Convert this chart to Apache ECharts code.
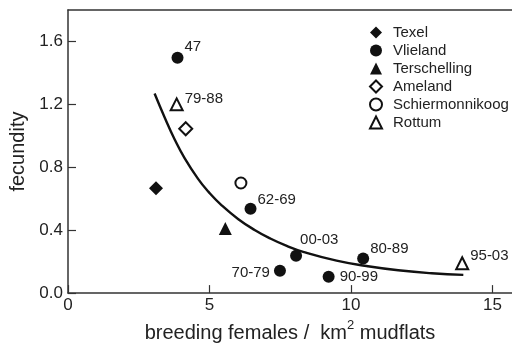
<!DOCTYPE html>
<html>
<head>
<meta charset="utf-8">
<script src="https://cdn.jsdelivr.net/npm/echarts@6/dist/echarts.min.js"></script>
<style>
html,body{margin:0;padding:0;background:#fff;}
#c{width:512px;height:348px;}
</style>
</head>
<body>
<div id="c"></div>
<script>
// ---- data ----
var texel = [[3.11, 0.666, '']];
var vlieland = [
  [3.87, 1.497, '47'],
  [6.45, 0.537, '62-69'],
  [7.49, 0.142, '70-79'],
  [8.06, 0.237, '00-03'],
  [9.21, 0.104, '90-99'],
  [10.43, 0.220, '80-89']
];
var terschelling = [[5.56, 0.41, '']];
var ameland = [[4.16, 1.045, '']];
var schiermonnikoog = [[6.11, 0.70, '']];
var rottum = [[3.84, 1.20, '79-88'], [13.93, 0.19, '95-03']];
var curveX = [3.06, 3.42, 3.77, 4.12, 4.59, 4.96, 5.43, 6.02, 6.61, 7.14, 7.73, 8.31, 9.49, 10.55, 11.67, 12.85, 13.97];
var curveY = [1.269, 1.115, 0.977, 0.858, 0.728, 0.645, 0.558, 0.470, 0.400, 0.348, 0.300, 0.262, 0.206, 0.172, 0.145, 0.126, 0.116];
var xTicks = [0, 5, 10, 15];
var yTicks = [0, 0.4, 0.8, 1.2, 1.6];

// label placement (style only)
var labelStyle = {
  '47': {position: 'right', distance: 1, offset: [0, -11]},
  '62-69': {position: 'right', distance: 1, offset: [0, -9]},
  '70-79': {position: 'left', distance: 4, offset: [0, 2]},
  '00-03': {position: 'right', distance: 0, offset: [-2, -16]},
  '90-99': {position: 'right', distance: 5, offset: [0, 0]},
  '80-89': {position: 'right', distance: 1, offset: [0, -10]},
  '79-88': {position: 'right', distance: 1, offset: [0, -6]},
  '95-03': {position: 'right', distance: 1, offset: [0, -7]}
};

var FONT = '"Liberation Sans", Arial, Helvetica, sans-serif';
var TXT = '#222';

function pts(arr) {
  return arr.map(function (d) {
    var item = {value: [d[0], d[1]], name: d[2]};
    if (d[2]) {
      var ls = labelStyle[d[2]];
      item.label = {
        show: true, formatter: d[2], position: ls.position, distance: ls.distance,
        offset: ls.offset, fontSize: 15, fontFamily: FONT, color: TXT
      };
    }
    return item;
  });
}

var curve = curveX.map(function (x, i) { return [x, curveY[i]]; });

function sc(name, data, symbol, size, empty) {
  return {
    name: name, type: 'scatter', data: pts(data), symbol: symbol, symbolSize: size,
    itemStyle: empty ? {color: '#111', borderColor: '#111', borderWidth: 1.4, opacity: 1} : {color: '#111', opacity: 1},
    emphasis: {disabled: true}, z: 3
  };
}

var chart = echarts.init(document.getElementById('c'), null, {renderer: 'canvas'});
chart.setOption({
  animation: false,
  backgroundColor: '#fff',
  grid: {left: 68, top: 10, right: 0, bottom: 53},
  legend: {
    orient: 'vertical', left: 364, top: 20, itemWidth: 12, itemHeight: 12, itemGap: 3,
    textStyle: {fontSize: 15, fontFamily: FONT, color: TXT, lineHeight: 15, padding: [0, 0, 0, 6]},
    data: ['Texel', 'Vlieland', 'Terschelling', 'Ameland', 'Schiermonnikoog', 'Rottum']
  },
  xAxis: [{
    type: 'value', min: 0, max: 15.69, position: 'bottom',
    axisLine: {show: true, lineStyle: {color: '#333', width: 1.5}},
    axisTick: {show: true, inside: true, length: 8, customValues: xTicks, lineStyle: {color: '#333', width: 1.2}},
    axisLabel: {customValues: xTicks, fontSize: 17, fontFamily: FONT, color: TXT, margin: 4},
    splitLine: {show: false},
    name: '{a|breeding females /  km}{s|2}{a| mudflats}',
    nameLocation: 'middle', nameGap: 19,
    nameTextStyle: {
      rich: {
        a: {fontSize: 20, fontFamily: FONT, color: TXT, verticalAlign: 'bottom', lineHeight: 24},
        s: {fontSize: 13, fontFamily: FONT, color: TXT, verticalAlign: 'top', lineHeight: 24, padding: [0, 0, 10, 0]}
      }
    }
  }, {
    type: 'value', min: 0, max: 15.69, position: 'top',
    axisLine: {show: true, lineStyle: {color: '#333', width: 1.5}},
    axisTick: {show: false}, axisLabel: {show: false}, splitLine: {show: false}
  }],
  yAxis: {
    type: 'value', min: 0, max: 1.8,
    axisLine: {show: true, lineStyle: {color: '#333', width: 1.5}},
    axisTick: {show: true, inside: true, length: 8, customValues: yTicks, lineStyle: {color: '#333', width: 1.2}},
    axisLabel: {customValues: yTicks, fontSize: 17, fontFamily: FONT, color: TXT, margin: 5,
      formatter: function (v) { return v.toFixed(1); }},
    splitLine: {show: false},
    name: 'fecundity', nameLocation: 'middle', nameGap: 32,
    nameTextStyle: {fontSize: 20, fontFamily: FONT, color: TXT}
  },
  series: [
    sc('Texel', texel, 'diamond', 14, false),
    sc('Vlieland', vlieland, 'circle', 12, false),
    sc('Terschelling', terschelling, 'triangle', 13, false),
    sc('Ameland', ameland, 'emptyDiamond', 13, true),
    sc('Schiermonnikoog', schiermonnikoog, 'emptyCircle', 11, true),
    sc('Rottum', rottum, 'emptyTriangle', 12, true),
    {
      name: 'fit', type: 'line', data: curve, smooth: true, showSymbol: false, symbol: 'none',
      lineStyle: {color: '#111', width: 2.4}, emphasis: {disabled: true}, z: 2, silent: true
    }
  ]
});
</script>
</body>
</html>
